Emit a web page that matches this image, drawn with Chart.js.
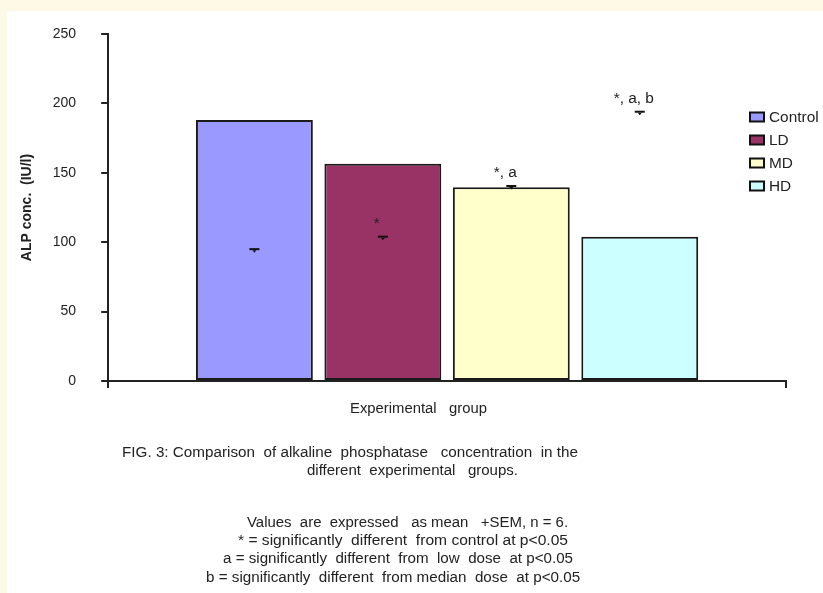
<!DOCTYPE html>
<html>
<head>
<meta charset="utf-8">
<script src="https://cdn.jsdelivr.net/npm/chart.js@4.4.1/dist/chart.umd.min.js"></script>
<style>
  html, body { margin: 0; padding: 0; }
  body { width: 823px; height: 593px; background: #FEF9E7; position: relative; overflow: hidden;
         font-family: 'Liberation Sans', Arial, sans-serif; }
  #sheet { position: absolute; left: 7px; top: 11px; right: 0; bottom: 0; background: #ffffff; }
  #chart { position: absolute; left: 0; top: 0; }
  .note { position: absolute; font-size: 14px; line-height: 16px; color: #222; white-space: pre;
          transform-origin: 0 50%; }
</style>
</head>
<body>
<div id="sheet"></div>
<canvas id="chart" width="823" height="593"></canvas>
<div id="notes"></div>
<script>
// Experimental groups and mean ALP concentration (IU/l)
const groups = ['Control', 'LD', 'MD', 'HD'];
const alpMeans = [188, 156.5, 139.5, 104];
// Level of the SEM cap drawn for each group
const semCaps = [95, 104, 140.5, 194];
// Significance marks written above each cap
const sigMarks = ['', '*', '*, a', '*, a, b'];
const barColors = ['#9999FF', '#993366', '#FFFFCC', '#CCFFFF'];
const yTicks = [0, 50, 100, 150, 200, 250];

const axisTitleX = 'Experimental   group';
const axisTitleY = 'ALP conc.  (IU/l)';
const captionLines = [
  'FIG. 3: Comparison  of alkaline  phosphatase   concentration  in the',
  'different  experimental   groups.',
  'Values  are  expressed   as mean   +SEM, n = 6.',
  '* = significantly  different  from control at p<0.05',
  'a = significantly  different  from  low  dose  at p<0.05',
  'b = significantly  different  from median  dose  at p<0.05'
];

const FONT = "'Liberation Sans', Arial, sans-serif";
const INK = '#222222';

// Draws text stretched horizontally by sx around its anchor
function wideText(ctx, text, x, y, sx) {
  ctx.save();
  ctx.translate(x, y);
  ctx.scale(sx, 1);
  ctx.fillText(text, 0, 0);
  ctx.restore();
}

// SEM caps, significance marks and the legend box
const extras = {
  id: 'extras',
  afterDatasetsDraw(chart) {
    const ctx = chart.ctx;
    const y = chart.scales.y;
    ctx.save();
    chart.data.datasets.forEach((ds, i) => {
      const bar = chart.getDatasetMeta(i).data[0];
      const cx = bar.x;
      const cy = y.getPixelForValue(semCaps[i]);
      ctx.fillStyle = '#111';
      ctx.fillRect(cx - 5, cy - 1, 10, 2);
      ctx.beginPath();
      ctx.moveTo(cx - 2, cy + 1);
      ctx.lineTo(cx + 2, cy + 1);
      ctx.lineTo(cx, cy + 3.5);
      ctx.closePath();
      ctx.fill();
      if (sigMarks[i]) {
        ctx.font = '14px ' + FONT;
        ctx.fillStyle = INK;
        ctx.textAlign = 'center';
        ctx.textBaseline = 'bottom';
        wideText(ctx, sigMarks[i], cx - 6, cy - 6, 1.1);
      }
    });
    // legend
    const lx = 750, ly = 117, step = 23;
    ctx.font = '14px ' + FONT;
    ctx.textAlign = 'left';
    ctx.textBaseline = 'middle';
    chart.data.datasets.forEach((ds, i) => {
      const yy = ly + i * step;
      ctx.fillStyle = ds.backgroundColor;
      ctx.fillRect(lx, yy - 4.5, 14, 9);
      ctx.strokeStyle = '#111';
      ctx.lineWidth = 2;
      ctx.strokeRect(lx, yy - 4.5, 14, 9);
      ctx.fillStyle = INK;
      wideText(ctx, ds.label, lx + 19, yy + 1, 1.1);
    });
    ctx.restore();
  }
};

new Chart(document.getElementById('chart'), {
  type: 'bar',
  data: {
    labels: [''],
    datasets: groups.map((g, i) => ({
      label: g,
      data: [alpMeans[i]],
      backgroundColor: barColors[i],
      borderColor: '#1a1a1a',
      borderWidth: 2,
      borderSkipped: false,
      categoryPercentage: 0.758,
      barPercentage: 0.91
    }))
  },
  options: {
    responsive: false,
    animation: false,
    devicePixelRatio: 1,
    layout: { padding: { left: 0, top: 34, right: 37, bottom: 205 } },
    plugins: { legend: { display: false }, tooltip: { enabled: false } },
    scales: {
      x: {
        ticks: { display: false },
        grid: { drawOnChartArea: false, color: INK, lineWidth: 2, tickLength: 7 },
        border: { color: INK, width: 2 }
      },
      y: {
        min: 0,
        max: 250,
        afterBuildTicks(scale) { scale.ticks = yTicks.map(v => ({ value: v })); },
        ticks: { color: INK, padding: 25, font: { family: FONT, size: 14 } },
        grid: { drawOnChartArea: false, color: INK, lineWidth: 2, tickLength: 7 },
        border: { color: INK, width: 2 },
        title: {
          display: true,
          text: axisTitleY,
          color: INK,
          font: { family: FONT, size: 14, weight: 'bold' },
          padding: { top: 19, bottom: -8 }
        }
      }
    }
  },
  plugins: [extras]
});

// Axis caption and figure notes under the plot
const noteLayout = [
  [axisTitleX, 350, 487, 408],
  [captionLines[0], 122, 578, 452],
  [captionLines[1], 307, 518, 470],
  [captionLines[2], 247, 568, 522],
  [captionLines[3], 238, 568, 540],
  [captionLines[4], 223, 573, 558],
  [captionLines[5], 206, 580, 577]
];
const notes = document.getElementById('notes');
noteLayout.forEach(([text, x0, x1, yc]) => {
  const d = document.createElement('div');
  d.className = 'note';
  d.textContent = text;
  d.style.left = x0 + 'px';
  d.style.top = (yc - 8) + 'px';
  notes.appendChild(d);
  const w = d.getBoundingClientRect().width;
  d.style.transform = 'scaleX(' + ((x1 - x0) / w).toFixed(3) + ')';
});
</script>
</body>
</html>
